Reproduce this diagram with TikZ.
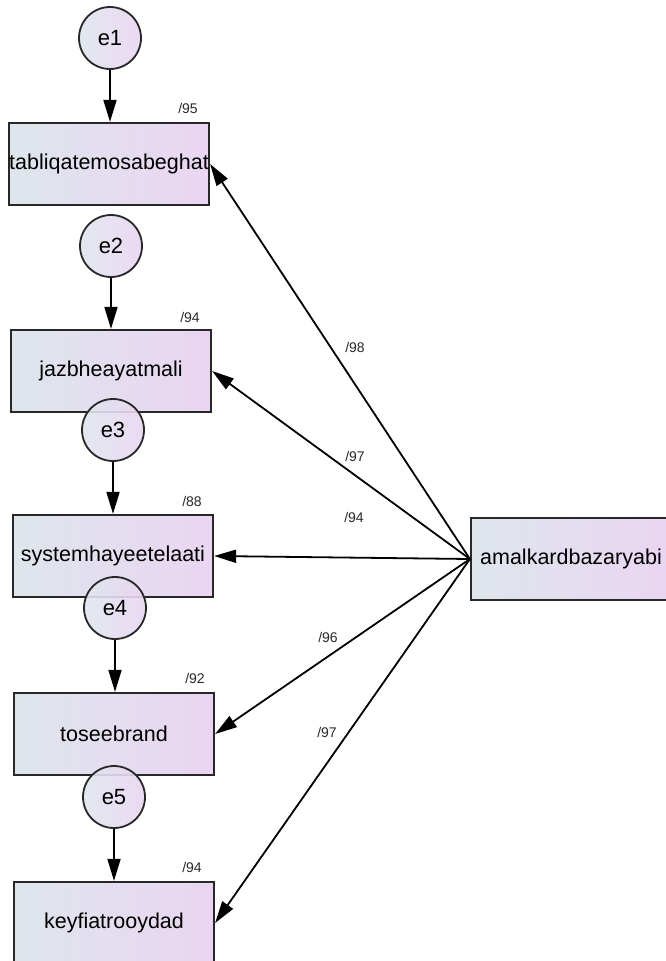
\documentclass[tikz,border=0pt]{standalone}
\usepackage{fontspec}
\setmainfont{Liberation Sans}
\usetikzlibrary{arrows.meta}
\definecolor{semleft}{RGB}{222,230,236}
\definecolor{semright}{RGB}{234,213,242}
\definecolor{semline}{RGB}{40,40,40}
\begin{document}
\begin{tikzpicture}[x=1pt, y=-1pt, >={Triangle[length=22pt,width=13pt]},
    obs/.style={draw=semline, line width=2.2pt, left color=semleft, right color=semright,
                minimum width=200pt, minimum height=82pt, inner sep=0pt,
                font=\fontsize{21.5}{24}\selectfont},
    err/.style={circle, draw=semline, line width=1.8pt, left color=semleft, right color=semright,
                fill opacity=0.9, text opacity=1, minimum size=62pt, inner sep=0pt,
                font=\fontsize{22}{24}\selectfont},
    link/.style={->, line width=1.8pt, draw=black},
    wt/.style={font=\fontsize{14}{16}\selectfont, text=semline, inner sep=0pt}]
    \useasboundingbox (0,0) rectangle (666,961);
    % observed variables
    \node[obs] (b1) at (109,164) {tabliqatemosabeghat};
    \node[obs] (b2) at (111,371) {jazbheayatmali};
    \node[obs] (b3) at (113,556) {systemhayeetelaati};
    \node[obs] (b4) at (114,734) {toseebrand};
    \node[obs] (b5) at (114,923) {keyfiatrooydad};
    \node[obs] (F) at (571,559) {amalkardbazaryabi};
    % errors
    \node[err] (e1) at (110,38) {e1};
    \node[err] (e2) at (111,246) {e2};
    \node[err] (e3) at (113,430) {e3};
    \node[err] (e4) at (115,608) {e4};
    \node[err] (e5) at (114,797) {e5};
    \foreach \i in {1,...,5}
        \draw[link] (e\i.south) -- (e\i.south |- b\i.north);
    \foreach \i in {1,...,5}
        \draw[link] (F.west) -- (b\i.east);
    % squared multiple correlations
    \node[wt] (r1) at (188,108) {/95};
    \node[wt] (r2) at (190,317) {/94};
    \node[wt] (r3) at (192,501) {/88};
    \node[wt] (r4) at (195,678) {/92};
    \node[wt] (r5) at (192,867) {/94};
    % loadings
    \node[wt] (w1) at (355,347) {/98};
    \node[wt] (w2) at (355,456) {/97};
    \node[wt] (w3) at (354,517) {/94};
    \node[wt] (w4) at (328,637) {/96};
    \node[wt] (w5) at (327,732) {/97};
\end{tikzpicture}
\end{document}
